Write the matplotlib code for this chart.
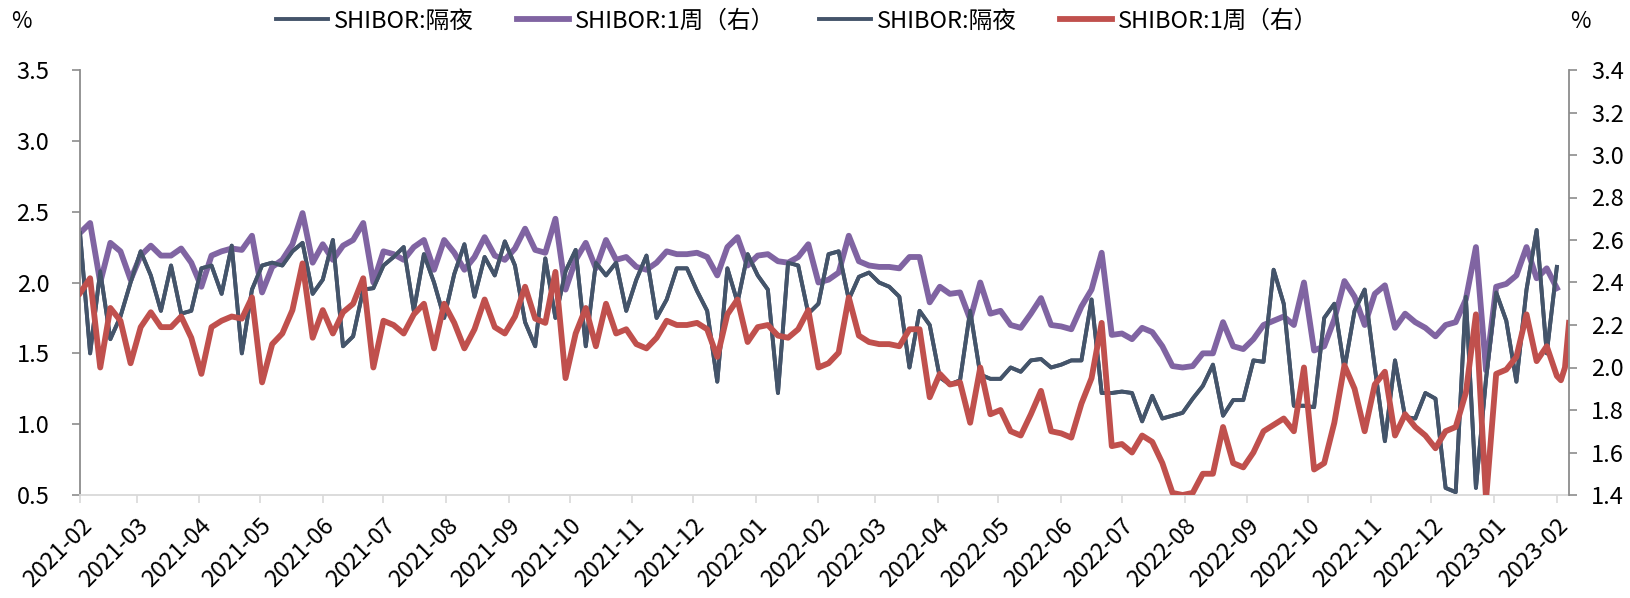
import numpy as np
import pandas as pd
import matplotlib
matplotlib.use("Agg")
import matplotlib.pyplot as plt
import matplotlib.dates as mdates
from matplotlib.ticker import MultipleLocator, FormatStrFormatter

plt.rcParams['font.family'] = ['Noto Sans CJK SC', 'DejaVu Sans']

# 5-day sampled readings, 2021-02-01 .. 2023-02-01
dates = pd.date_range("2021-02-01", "2023-02-01", freq="5D")
# the red series runs a few days longer
extra_dates = pd.to_datetime(["2023-02-03", "2023-02-05", "2023-02-07"])

shibor_on = [
    2.35, 1.50, 2.08, 1.60, 1.76, 2.00, 2.22, 2.05, 1.80, 2.12,
    1.78, 1.80, 2.10, 2.12, 1.92, 2.26, 1.50, 1.95, 2.12, 2.14,
    2.12, 2.22, 2.28, 1.92, 2.02, 2.30, 1.55, 1.62, 1.95, 1.96,
    2.12, 2.18, 2.25, 1.80, 2.20, 2.00, 1.75, 2.06, 2.27, 1.90,
    2.18, 2.05, 2.29, 2.12, 1.72, 1.55, 2.17, 1.75, 2.08, 2.23,
    1.55, 2.14, 2.05, 2.14, 1.80, 2.02, 2.19, 1.75, 1.88, 2.10,
    2.10, 1.94, 1.80, 1.30, 2.10, 1.86, 2.20, 2.05, 1.95, 1.22,
    2.14, 2.12, 1.78, 1.85, 2.20, 2.22, 1.88, 2.04, 2.07, 2.00,
    1.97, 1.90, 1.40, 1.80, 1.70, 1.33, 1.28, 1.31, 1.80, 1.35,
    1.32, 1.32, 1.40, 1.37, 1.45, 1.46, 1.40, 1.42, 1.45, 1.45,
    1.88, 1.22, 1.22, 1.23, 1.22, 1.02, 1.20, 1.04, 1.06, 1.08,
    1.18, 1.27, 1.42, 1.06, 1.17, 1.17, 1.45, 1.44, 2.09, 1.85,
    1.13, 1.13, 1.12, 1.75, 1.85, 1.39, 1.80, 1.95, 1.40, 0.88,
    1.45, 1.05, 1.04, 1.22, 1.18, 0.55, 0.52, 1.90, 0.55, 1.32,
    1.93, 1.73, 1.30, 1.95, 2.37, 1.50, 2.11,
]

shibor_1w = [
    2.35, 2.42, 2.00, 2.28, 2.22, 2.02, 2.19, 2.26, 2.19, 2.19,
    2.24, 2.14, 1.97, 2.19, 2.22, 2.24, 2.23, 2.33, 1.93, 2.11,
    2.16, 2.27, 2.49, 2.14, 2.27, 2.16, 2.26, 2.30, 2.42, 2.00,
    2.22, 2.20, 2.16, 2.25, 2.30, 2.09, 2.30, 2.21, 2.09, 2.18,
    2.32, 2.19, 2.16, 2.24, 2.38, 2.23, 2.21, 2.45, 1.95, 2.16,
    2.28, 2.10, 2.30, 2.16, 2.18, 2.11, 2.09, 2.14, 2.22, 2.20,
    2.20, 2.21, 2.18, 2.05, 2.25, 2.32, 2.12, 2.19, 2.20, 2.15,
    2.14, 2.18, 2.27, 2.00, 2.02, 2.07, 2.33, 2.15, 2.12, 2.11,
    2.11, 2.10, 2.18, 2.18, 1.86, 1.97, 1.92, 1.93, 1.74, 2.00,
    1.78, 1.80, 1.70, 1.68, 1.78, 1.89, 1.70, 1.69, 1.67, 1.83,
    1.95, 2.21, 1.63, 1.64, 1.60, 1.68, 1.65, 1.55, 1.41, 1.40,
    1.41, 1.50, 1.50, 1.72, 1.55, 1.53, 1.60, 1.70, 1.73, 1.76,
    1.70, 2.00, 1.52, 1.55, 1.74, 2.01, 1.90, 1.70, 1.92, 1.98,
    1.68, 1.78, 1.72, 1.68, 1.62, 1.70, 1.72, 1.88, 2.25, 1.38,
    1.97, 1.99, 2.05, 2.25, 2.03, 2.10, 1.96,
]
shibor_1w_extra = [1.94, 2.00, 2.21]

labels = ["SHIBOR:隔夜", "SHIBOR:1周（右）", "SHIBOR:隔夜", "SHIBOR:1周（右）"]

c_dark = "#44546A"
c_purple = "#8064A2"
c_red = "#C0504D"
c_axis = "#8C8C8C"

fig = plt.figure(figsize=(16.3, 5.98), dpi=100)
ax = fig.add_axes([80 / 1630, 103 / 598, 1489 / 1630, 425 / 598])
ax2 = ax.twinx()

dates_red = dates.append(extra_dates)
w1_red = shibor_1w + shibor_1w_extra

l1, = ax.plot(dates, shibor_on, color=c_dark, lw=2.8)
l2, = ax.plot(dates, shibor_1w, color=c_purple, lw=4.2)
l3, = ax.plot(dates, shibor_on, color=c_dark, lw=2.8)
l4, = ax2.plot(dates_red, w1_red, color=c_red, lw=4.2)

ax.set_xlim(pd.Timestamp("2021-02-01"), pd.Timestamp("2023-02-07"))
ax.set_ylim(0.5, 3.5)
ax2.set_ylim(1.4, 3.4)
ax.yaxis.set_major_locator(MultipleLocator(0.5))
ax.yaxis.set_major_formatter(FormatStrFormatter("%.1f"))
ax2.yaxis.set_major_locator(MultipleLocator(0.2))
ax2.yaxis.set_major_formatter(FormatStrFormatter("%.1f"))

ax.xaxis.set_major_locator(mdates.MonthLocator())
ax.xaxis.set_major_formatter(mdates.DateFormatter("%Y-%m"))

for a in (ax, ax2):
    a.spines["top"].set_visible(False)
ax.spines["right"].set_visible(False)
ax2.spines["left"].set_visible(False)
ax2.spines["bottom"].set_visible(False)
ax.spines["bottom"].set_color("#D9D9D9")
ax.spines["bottom"].set_linewidth(1.3)
ax.spines["left"].set_color(c_axis)
ax.spines["left"].set_linewidth(1.3)
ax2.spines["right"].set_color(c_axis)
ax2.spines["right"].set_linewidth(1.3)

ax.tick_params(axis="y", direction="out", length=6, width=1.2, color=c_axis,
               pad=16, labelsize=17)
ax2.tick_params(axis="y", direction="out", length=6, width=1.2, color=c_axis,
                pad=10, labelsize=17)
ax.tick_params(axis="x", direction="out", length=6, width=1.2, color="#D9D9D9",
               pad=8, labelsize=17)
for lab in ax.get_xticklabels():
    lab.set_rotation(45)
    lab.set_ha("right")
    lab.set_rotation_mode("anchor")

fig.legend([l1, l2, l3, l4], labels, loc="center",
           bbox_to_anchor=(797 / 1630, 1 - 21 / 598), ncol=4, frameon=False,
           fontsize=17, handlelength=2.2, handletextpad=0.25, columnspacing=1.85)

fig.text(21 / 1630, 1 - 21 / 598, "%", ha="center", va="center", fontsize=16)
fig.text(1580 / 1630, 1 - 21 / 598, "%", ha="center", va="center", fontsize=16)

fig.savefig("out.png", dpi=100)
